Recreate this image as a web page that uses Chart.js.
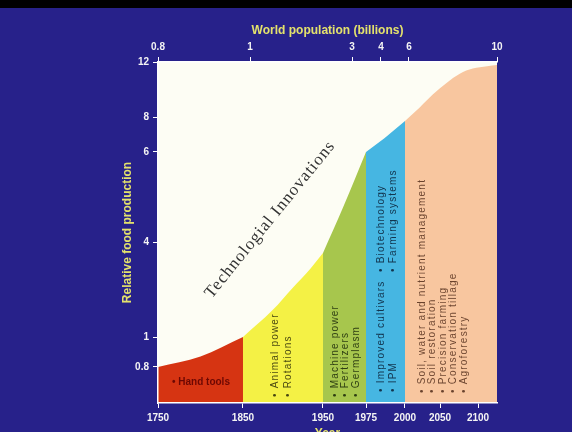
<!DOCTYPE html>
<html><head><meta charset="utf-8">
<script src="https://cdn.jsdelivr.net/npm/chart.js@4/dist/chart.umd.min.js"></script>
<style>html,body{margin:0;padding:0;overflow:hidden;background:#262180;width:572px;height:432px}canvas{display:block}</style>
</head><body><canvas id="c" width="572" height="442"></canvas>
<script>
// ---------------- data ----------------
const years = [1750, 1800, 1850, 1887, 1912, 1935, 1950, 1962, 1975, 1987, 2000, 2021, 2040, 2059, 2076, 2093, 2112, 2125];
const food  = [0.8, 0.87, 1.0, 1.85, 2.55, 3.18, 3.65, 4.8, 6.0, 6.8, 7.77, 8.7, 9.65, 10.5, 11.15, 11.52, 11.7, 11.78];
const eraBounds = [1750, 1850, 1950, 1975, 2000, 2125];
const eraColors = ['#d63412', '#f4f145', '#a7c64d', '#46b6e2', '#f8c69f'];
const yearTicks = [1750, 1850, 1950, 1975, 2000, 2050, 2100];
const foodTicks = [0.8, 1, 4, 6, 8, 12];
const popTicks  = [0.8, 1, 3, 4, 6, 10];
const handNotes   = ['• Hand tools'];
const animalNotes = ['• Animal power', '• Rotations'];
const machineNotes = ['• Machine power', '• Fertilizers', '• Germplasm'];
const cultivarNotes = [['• Improved cultivars', '• Biotechnology'], ['• IPM', '• Farming systems']];
const soilNotes = ['• Soil, water and nutrient management', '• Soil restoration', '• Precision farming', '• Conservation tillage', '• Agroforestry'];
const bigNote = 'Technologial Innovations';

// ------------- axis warping (value -> fraction of axis length) -------------
const warp = {
  x:    {v: [1750, 1850, 1950, 1975, 2000, 2050, 2100, 2125], f: [0, 0.2507, 0.4867, 0.6136, 0.7286, 0.8319, 0.9440, 1]},
  xTop: {v: [0.8, 1, 3, 4, 6, 10], f: [0, 0.2714, 0.5723, 0.6578, 0.7404, 1]},
  y:    {v: [0.6, 0.8, 1, 4, 6, 8, 12], f: [0, 0.1056, 0.1935, 0.4721, 0.7361, 0.8387, 1]}
};
const tickMap = {x: yearTicks, xTop: popTicks, y: foodTicks};
function interp(xs, ys, v) {
  const n = xs.length - 1;
  if (v <= xs[0]) return ys[0] + (v - xs[0]) * (ys[1] - ys[0]) / (xs[1] - xs[0]);
  for (let i = 1; i <= n; i++) if (v <= xs[i]) return ys[i-1] + (v - xs[i-1]) * (ys[i] - ys[i-1]) / (xs[i] - xs[i-1]);
  return ys[n] + (v - xs[n]) * (ys[n] - ys[n-1]) / (xs[n] - xs[n-1]);
}
class WarpScale extends Chart.LinearScale {
  buildTicks() { return (tickMap[this.id] || []).map(v => ({value: v})); }
  getPixelForValue(value) {
    if (value === null || value === undefined || isNaN(value)) return NaN;
    const m = warp[this.id];
    return this.getPixelForDecimal(interp(m.v, m.f, value));
  }
  getValueForPixel(pixel) {
    const m = warp[this.id];
    return interp(m.f, m.v, this.getDecimalForPixel(pixel));
  }
}
WarpScale.id = 'warp';
WarpScale.defaults = Chart.LinearScale.defaults;
Chart.register(WarpScale);

// ---------------- styles ----------------
const BG = '#27218a', PLOT = '#fdfdf4', TITLE = '#e4e26c', TICK = '#f4f4f4';
const tickFont = {family: 'Liberation Sans', weight: 'bold', size: 10};
const titleFont = {family: 'Liberation Sans', weight: 'bold', size: 12};

const bgPlugin = {
  id: 'bg',
  beforeDraw(chart) {
    const {ctx, chartArea: a, width, height} = chart;
    ctx.save();
    ctx.fillStyle = BG; ctx.fillRect(0, 0, width, height);
    ctx.fillStyle = '#000'; ctx.fillRect(0, 0, width, 8);
    ctx.fillStyle = PLOT; ctx.fillRect(a.left, a.top, a.right - a.left, a.bottom - a.top);
    ctx.restore();
  }
};

function vtext(ctx, txt, x, y) {
  ctx.save(); ctx.translate(x, y); ctx.rotate(-Math.PI / 2);
  ctx.textAlign = 'left'; ctx.textBaseline = 'middle';
  ctx.fillText(txt, 0, 0); ctx.restore();
}
const notesPlugin = {
  id: 'notes',
  afterDatasetsDraw(chart) {
    const {ctx, scales: {x, y}} = chart;
    const e = eraBounds.map(b => x.getPixelForValue(b));
    const base = y.bottom - 8;
    ctx.save();
    // hand tools
    ctx.font = 'bold 10px "Liberation Sans"';
    ctx.fillStyle = 'rgba(90,0,0,0.85)';
    ctx.textAlign = 'left'; ctx.textBaseline = 'middle';
    ctx.fillText(handNotes[0], e[0] + 14, y.bottom - 21);
    ctx.font = '10px "Liberation Sans"';
    ctx.letterSpacing = '1.2px';
    ctx.fillStyle = 'rgba(20,20,0,0.78)';
    animalNotes.forEach((t, i) => vtext(ctx, t, e[1] + 32 + i * 13, base + 2));
    ctx.fillStyle = 'rgba(10,20,0,0.78)';
    machineNotes.forEach((t, i) => vtext(ctx, t, e[2] + 12 + i * 10.5, base + 2));
    ctx.fillStyle = 'rgba(0,10,30,0.75)';
    cultivarNotes.forEach((pair, i) => {
      vtext(ctx, pair[0], e[3] + 15 + i * 12, base - 3);
      vtext(ctx, pair[1], e[3] + 15 + i * 12, base - 123);
    });
    ctx.fillStyle = 'rgba(50,15,0,0.72)';
    soilNotes.forEach((t, i) => vtext(ctx, t, e[4] + 17 + i * 10.5, base - 2));
    // big diagonal label
    ctx.letterSpacing = '1px';
    ctx.font = '17px "Liberation Serif"';
    ctx.fillStyle = '#333333';
    ctx.translate(x.getPixelForValue(1884), y.getPixelForValue(4.5));
    ctx.rotate(-51 * Math.PI / 180);
    ctx.textAlign = 'center'; ctx.textBaseline = 'middle';
    ctx.fillText(bigNote, 0, 0);
    ctx.restore();
  }
};

const datasets = eraColors.map((c, i) => ({
  data: years.map((yr, k) => ({x: yr, y: food[k]})).filter(p => p.x >= eraBounds[i] && p.x <= eraBounds[i + 1]),
  backgroundColor: c, borderColor: 'rgba(0,0,0,0)', borderWidth: 0, pointRadius: 0,
  fill: 'start', cubicInterpolationMode: 'monotone', xAxisID: 'x', yAxisID: 'y'
}));

const axisCommon = {
  type: 'warp',
  grid: {display: true, drawOnChartArea: false, drawTicks: true, tickLength: 5, color: '#fff', lineWidth: 1},
  border: {display: true, color: '#fff', width: 1.5, z: 1},
};

new Chart(document.getElementById('c'), {
  type: 'line',
  data: {datasets},
  options: {
    responsive: false, animation: false, devicePixelRatio: 1,
    layout: {padding: {left: 112, top: 22, right: 75, bottom: 0}},
    plugins: {legend: {display: false}, tooltip: {enabled: false}},
    scales: {
      x: Object.assign({}, axisCommon, {
        position: 'bottom', min: 1750, max: 2125,
        afterFit: s => { s.height = 39; },
        ticks: {autoSkip: false, maxRotation: 0, padding: 4, color: TICK, font: tickFont, callback: v => String(v)},
        title: {display: true, text: 'Year', color: TITLE, font: titleFont, padding: {top: 0, bottom: 1}}
      }),
      xTop: Object.assign({}, axisCommon, {
        axis: 'x', position: 'top', min: 0.8, max: 10,
        afterFit: s => { s.height = 40; },
        ticks: {autoSkip: false, maxRotation: 0, padding: 4, color: TICK, font: tickFont, callback: v => String(v)},
        title: {display: true, text: 'World population (billions)', color: TITLE, font: titleFont, padding: {top: 1, bottom: 0}}
      }),
      y: Object.assign({}, axisCommon, {
        position: 'left', min: 0.6, max: 12,
        afterFit: s => { s.width = 46; },
        ticks: {autoSkip: false, padding: 4, color: TICK, font: tickFont, callback: v => String(v)},
        title: {display: true, text: 'Relative food production', color: TITLE, font: titleFont, padding: {top: 8, bottom: 0}}
      })
    }
  },
  plugins: [bgPlugin, notesPlugin]
});
</script></body></html>
